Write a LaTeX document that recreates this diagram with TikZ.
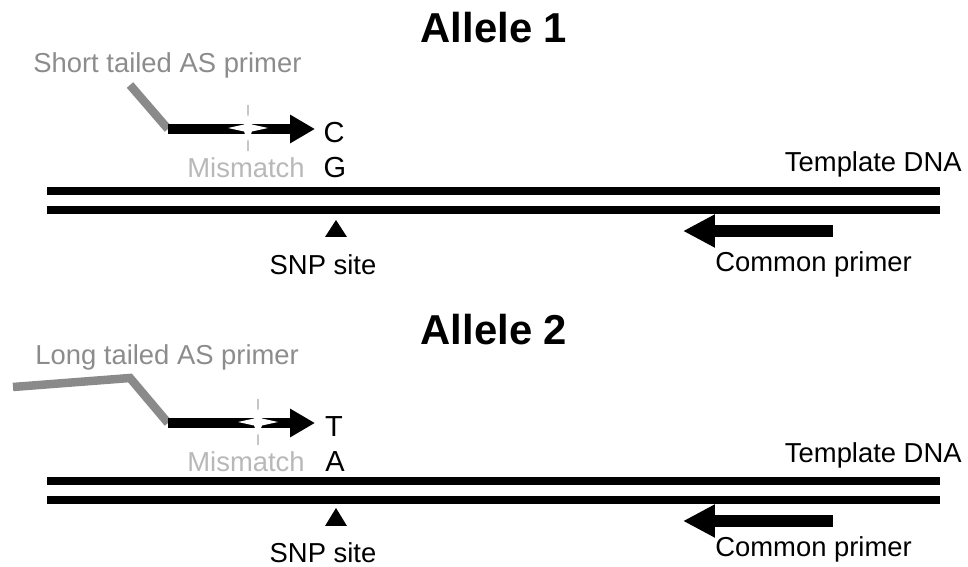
\documentclass[tikz,border=0pt]{standalone}
\usepackage{fontspec}
\setmainfont{Liberation Sans}
\usetikzlibrary{arrows.meta}
\definecolor{tailgray}{HTML}{8A8A8A}
\definecolor{labgray}{HTML}{8C8C8C}
\definecolor{mmgray}{HTML}{B8B8B8}
\begin{document}
\begin{tikzpicture}[x=0.02cm,y=-0.02cm,
  txt/.style={font=\fontsize{15.6}{18}\selectfont, inner sep=0pt},
  title/.style={font=\fontsize{23.8}{28}\bfseries\selectfont, inner sep=0pt, anchor=base},
  nuc/.style={font=\fontsize{16.5}{19}\selectfont, inner sep=0pt, anchor=base},
  graytxt/.style={txt, text=labgray},
  mmtxt/.style={txt, text=mmgray, anchor=base east},
  dna/.style={line width=0.16cm},
  tail/.style={tailgray, line width=0.17cm, line join=miter},
  asprimer/.style={line width=0.21cm, -{Triangle[length=0.5cm,width=0.54cm]}},
  comprimer/.style={line width=0.24cm, -{Triangle[length=0.64cm,width=0.62cm]}},
  snpmark/.style={fill=black},
  crossline/.style={mmgray!80, line width=1.2pt},
  sparkle/.style={fill=white}
]
\useasboundingbox (0,0) rectangle (968,567);

% ---------------- Allele 1 ----------------
\node[title] (al1) at (494,43) {Allele 1};
\node[graytxt, anchor=base west] (st) at (33,73) {Short tailed AS primer};
\coordinate (t1a) at (130,85);
\coordinate (t1b) at (168,129);
\coordinate (p1tip) at (315,129);
\draw[tail] (t1a) -- (t1b);
\draw[asprimer] (t1b) -- (p1tip);
% sparkle
\coordinate (s1) at (248,128);
\draw[crossline] ([yshift=-0.46cm]s1) -- ([yshift=0.46cm]s1);
\fill[sparkle] (s1) ++(-20,0) -- ++(16,-3.5) -- ++(4,-10) -- ++(4,10) -- ++(16,3.5) -- ++(-16,3.5) -- ++(-4,10) -- ++(-4,-10) -- cycle;
\node[nuc] (c1) at (334,143) {C};
\node[nuc] (g1) at (335,178) {G};
\node[mmtxt] (mm1) at (305,178) {Mismatch};
\node[txt, anchor=base east] (tdna1) at (962,172) {Template DNA};
\coordinate (d1la) at (47,191);
\coordinate (d1ra) at (940,191);
\coordinate (d1lb) at (47,210);
\coordinate (d1rb) at (940,210);
\draw[dna] (d1la) -- (d1ra);
\draw[dna] (d1lb) -- (d1rb);
\fill[snpmark] (336,220) -- (347,237) -- (325,237) -- cycle;
\node[txt, anchor=base] (snp1) at (323,275) {SNP site};
\coordinate (cp1s) at (833,231);
\coordinate (cp1e) at (683,231);
\draw[comprimer] (cp1s) -- (cp1e);
\node[txt, anchor=base west] (cpt1) at (715,272) {Common primer};

% ---------------- Allele 2 ----------------
\node[title] (al2) at (494,345) {Allele 2};
\node[graytxt, anchor=base west] (lt) at (35,365) {Long tailed AS primer};
\coordinate (t2a) at (13,387);
\coordinate (t2b) at (130,378);
\coordinate (t2c) at (168,423);
\coordinate (p2tip) at (315,423);
\draw[tail] (t2a) -- (t2b) -- (t2c);
\draw[asprimer] (t2c) -- (p2tip);
\coordinate (s2) at (258,422);
\draw[crossline] ([yshift=-0.46cm]s2) -- ([yshift=0.46cm]s2);
\fill[sparkle] (s2) ++(-20,0) -- ++(16,-3.5) -- ++(4,-10) -- ++(4,10) -- ++(16,3.5) -- ++(-16,3.5) -- ++(-4,10) -- ++(-4,-10) -- cycle;
\node[nuc] (t2) at (334,437) {T};
\node[nuc] (a2) at (335,472) {A};
\node[mmtxt] (mm2) at (305,472) {Mismatch};
\node[txt, anchor=base east] (tdna2) at (962,463) {Template DNA};
\coordinate (d2la) at (47,481);
\coordinate (d2ra) at (940,481);
\coordinate (d2lb) at (47,500);
\coordinate (d2rb) at (940,500);
\draw[dna] (d2la) -- (d2ra);
\draw[dna] (d2lb) -- (d2rb);
\fill[snpmark] (336,508) -- (347,526) -- (325,526) -- cycle;
\node[txt, anchor=base] (snp2) at (323,563) {SNP site};
\coordinate (cp2s) at (833,521);
\coordinate (cp2e) at (683,521);
\draw[comprimer] (cp2s) -- (cp2e);
\node[txt, anchor=base west] (cpt2) at (715,557) {Common primer};
\end{tikzpicture}
\end{document}
